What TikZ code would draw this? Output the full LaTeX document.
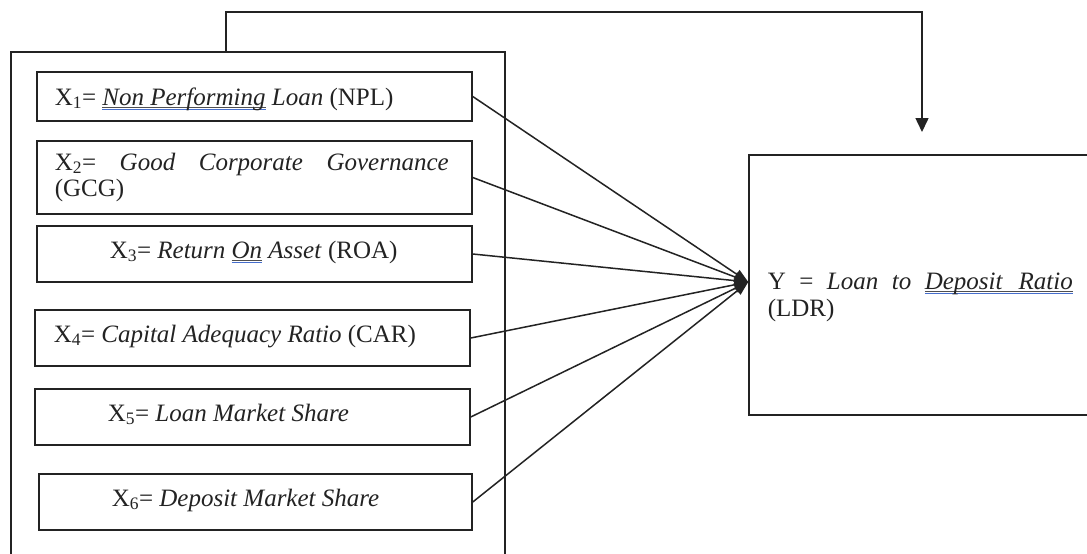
\documentclass[tikz,border=0pt]{standalone}
\usepackage{fontspec}
\setmainfont{Liberation Serif}
\usetikzlibrary{arrows.meta}

\definecolor{ink}{RGB}{35,35,35}
\definecolor{spell}{RGB}{70,110,205}

% proofing-style double underline under a word group
\newcommand\spellmark[1]{\leavevmode\setbox0=\hbox{#1}%
  \rlap{\color{ink!80}\rule[-2.6pt]{\wd0}{0.8pt}}%
  \rlap{\color{spell}\rule[-4.6pt]{\wd0}{0.9pt}}\box0\relax}

\begin{document}
\begin{tikzpicture}[x=1pt,y=-1pt,
    line width=1.5pt, draw=ink,
    varbox/.style={draw=ink, rectangle, inner sep=0pt, minimum width=435pt, minimum height=56pt},
    txt/.style={anchor=base west, inner sep=0pt, text=ink, font=\fontsize{25}{29}\selectfont},
    link/.style={draw=ink, line width=1.5pt, -{Triangle[length=14pt,width=10pt]}},
    feedback/.style={draw=ink, line width=1.5pt, -{Triangle[length=14pt,width=13pt]}}]

\useasboundingbox (0,0) rectangle (1087,554);
\fill[white] (0,0) rectangle (1087,554);
\clip (0,0) rectangle (1087,554);

% enclosing group of independent variables
\node[draw=ink, rectangle, inner sep=0pt, minimum width=494pt, minimum height=548pt] (grp) at (258,326) {};

% independent variables
\node[varbox, minimum height=49pt] (x1) at (254.5,96.5) {};
\node[varbox, minimum height=73pt] (x2) at (254.5,177.5) {};
\node[varbox] (x3) at (254.5,254) {};
\node[varbox] (x4) at (252.5,338) {};
\node[varbox] (x5) at (252.5,417) {};
\node[varbox, minimum width=433pt] (x6) at (255.5,502) {};

% dependent variable
\node[draw=ink, rectangle, inner sep=0pt, minimum width=361pt, minimum height=260pt] (ldr) at (929.5,285) {};

% labels
\node[txt] (t1) at (54,105) {X\textsubscript{1}= \spellmark{\textit{Non Performing}} \textit{Loan} (NPL)};
\node[txt] (t2a) at (54,170) {\makebox[394pt][s]{X\textsubscript{2}= \textit{Good} \textit{Corporate} \textit{Governance}}};
\node[txt] (t2b) at (54,196) {(GCG)};
\node[txt] (t3) at (109,258) {X\textsubscript{3}= \textit{Return} \spellmark{\textit{On}} \textit{Asset} (ROA)};
\node[txt] (t4) at (53,342) {X\textsubscript{4}= \textit{Capital Adequacy Ratio} (CAR)};
\node[txt] (t5) at (107,421) {X\textsubscript{5}= \textit{Loan Market Share}};
\node[txt] (t6) at (111,506) {X\textsubscript{6}= \textit{Deposit Market Share}};
\node[txt] (ya) at (767,289) {\makebox[305pt][s]{Y = \textit{Loan} \textit{to} \spellmark{\textit{Deposit\hspace{16pt}Ratio}}}};
\node[txt] (yb) at (767,316) {(LDR)};

% paths of influence
\coordinate (hub) at ([yshift=3pt]ldr.west);
\foreach \v in {x1,x2,x3,x4,x5,x6}
  \draw[link] (\v.east) -- (hub);

% simultaneous effect of the whole group
\coordinate (tap) at (226,52);
\coordinate (turn) at (922,12);
\coordinate (drop) at (922,132);
\draw[feedback] (tap) |- (turn) -- (drop);
\end{tikzpicture}
\end{document}
